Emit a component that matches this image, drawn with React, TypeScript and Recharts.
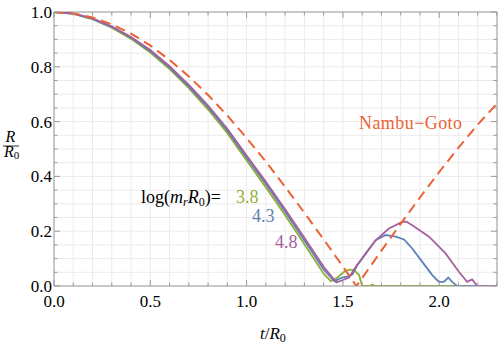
import { LineChart, Line, XAxis, YAxis, CartesianGrid, ReferenceLine } from 'recharts';

// Nambu-Goto loop (dashed)
const ngT = [0, 0.1, 0.2, 0.3, 0.4, 0.5, 0.6, 0.7, 0.8, 0.9, 1.0, 1.1, 1.2, 1.3, 1.4, 1.5, 1.57, 1.6, 1.7, 1.8, 1.9, 2.0, 2.1, 2.2, 2.3];
const ngR = [1.0, 0.995, 0.98, 0.955, 0.921, 0.878, 0.825, 0.765, 0.697, 0.622, 0.54, 0.454, 0.362, 0.267, 0.17, 0.071, 0.0, 0.029, 0.129, 0.227, 0.323, 0.416, 0.505, 0.589, 0.666];

// log(m_r R_0) = 3.8
const greenT = [0, 0.1, 0.2, 0.3, 0.4, 0.5, 0.6, 0.7, 0.8, 0.9, 1.0, 1.1, 1.2, 1.3, 1.4, 1.437, 1.472, 1.506, 1.532, 1.558, 1.584, 1.6, 1.64, 1.653, 1.665, 2.3];
const greenR = [1.0, 0.993, 0.974, 0.943, 0.902, 0.852, 0.792, 0.722, 0.644, 0.558, 0.458, 0.36, 0.258, 0.152, 0.045, 0.018, 0.031, 0.052, 0.06, 0.058, 0.04, 0.0, 0.0, 0.005, 0.0, 0.0];

// log(m_r R_0) = 4.3
const blueT = [0, 0.1, 0.2, 0.3, 0.4, 0.5, 0.6, 0.7, 0.8, 0.9, 1.0, 1.1, 1.2, 1.3, 1.4, 1.455, 1.497, 1.532, 1.55, 1.575, 1.619, 1.67, 1.722, 1.774, 1.817, 1.86, 1.912, 1.964, 1.998, 2.024, 2.047, 2.067, 2.093, 2.3];
const blueR = [1.0, 0.994, 0.975, 0.945, 0.906, 0.857, 0.797, 0.728, 0.652, 0.567, 0.468, 0.372, 0.271, 0.166, 0.06, 0.018, 0.031, 0.036, 0.043, 0.076, 0.119, 0.167, 0.186, 0.18, 0.17, 0.137, 0.088, 0.04, 0.015, 0.015, 0.031, 0.015, 0.0, 0.0];

// log(m_r R_0) = 4.8
const purpleT = [0, 0.1, 0.2, 0.3, 0.4, 0.5, 0.6, 0.7, 0.8, 0.9, 1.0, 1.1, 1.2, 1.3, 1.4, 1.466, 1.497, 1.532, 1.567, 1.619, 1.67, 1.739, 1.808, 1.83, 1.86, 1.947, 2.033, 2.102, 2.145, 2.171, 2.197, 2.3];
const purpleR = [1.0, 0.995, 0.977, 0.948, 0.909, 0.861, 0.802, 0.734, 0.658, 0.574, 0.476, 0.38, 0.28, 0.176, 0.07, 0.013, 0.021, 0.031, 0.07, 0.119, 0.167, 0.21, 0.234, 0.235, 0.222, 0.18, 0.119, 0.052, 0.015, 0.024, 0.0, 0.0];

const xTicks = [0, 0.1, 0.2, 0.3, 0.4, 0.5, 0.6, 0.7, 0.8, 0.9, 1.0, 1.1, 1.2, 1.3, 1.4, 1.5, 1.6, 1.7, 1.8, 1.9, 2.0, 2.1, 2.2, 2.3];
const yTicks = [0, 0.05, 0.1, 0.15, 0.2, 0.25, 0.3, 0.35, 0.4, 0.45, 0.5, 0.55, 0.6, 0.65, 0.7, 0.75, 0.8, 0.85, 0.9, 0.95, 1.0];

const W = 498;
const H = 345;
const PLOT_LEFT = 54;
const PLOT_RIGHT = 497;
const PLOT_TOP = 12;
const PLOT_BOTTOM = 286;

const FRAME = '#9a9a9a';
const GRID = '#ebebeb';
const ORANGE = '#EB6235';
const GREEN = '#8FB032';
const BLUE = '#5E81B5';
const PURPLE = '#A5609D';
const FONT = "'Liberation Serif', 'Times New Roman', Tinos, 'DejaVu Serif', serif";
const serif = { fontFamily: FONT };

const toPoints = (ts: number[], rs: number[]) => ts.map((t, i) => ({ t, r: rs[i] }));

const isMultiple = (v: number, step: number) => Math.abs(v / step - Math.round(v / step)) < 1e-6;

function XTick(props: any) {
  const { x, payload } = props;
  const v = payload.value;
  const major = isMultiple(v, 0.5);
  const len = major ? 6 : 3.5;
  return (
    <g>
      <line x1={x} x2={x} y1={PLOT_BOTTOM} y2={PLOT_BOTTOM - len} stroke={FRAME} />
      <line x1={x} x2={x} y1={PLOT_TOP} y2={PLOT_TOP + len} stroke={FRAME} />
      {major && (
        <text x={x} y={307} textAnchor="middle" style={serif} fontSize={17} fill="#000">
          {v.toFixed(1)}
        </text>
      )}
    </g>
  );
}

function YTick(props: any) {
  const { y, payload } = props;
  const v = payload.value;
  const major = isMultiple(v, 0.2);
  const len = major ? 6 : 3.5;
  return (
    <g>
      <line x1={PLOT_LEFT} x2={PLOT_LEFT + len} y1={y} y2={y} stroke={FRAME} />
      <line x1={PLOT_RIGHT} x2={PLOT_RIGHT - len} y1={y} y2={y} stroke={FRAME} />
      {major && (
        <text x={52} y={y + 6} textAnchor="end" style={serif} fontSize={17} fill="#000">
          {v.toFixed(1)}
        </text>
      )}
    </g>
  );
}

export default function App() {
  return (
    <div style={{ position: 'absolute', left: 0, top: 0, width: W, height: H, background: '#fff', fontFamily: FONT }}>
      <LineChart width={W} height={H} margin={{ top: PLOT_TOP, right: W - PLOT_RIGHT, bottom: 0, left: 0 }}>
        <CartesianGrid stroke={GRID} strokeWidth={1} />
        <XAxis
          type="number"
          dataKey="t"
          domain={[0, 2.3]}
          ticks={xTicks}
          interval={0}
          height={H - PLOT_BOTTOM}
          tickLine={false}
          axisLine={{ stroke: FRAME }}
          tick={<XTick />}
          allowDataOverflow
        />
        <YAxis
          type="number"
          dataKey="r"
          domain={[0, 1]}
          ticks={yTicks}
          interval={0}
          width={PLOT_LEFT}
          tickLine={false}
          axisLine={{ stroke: FRAME }}
          tick={<YTick />}
          allowDataOverflow
        />
        <ReferenceLine y={1} stroke={FRAME} />
        <ReferenceLine x={2.3} stroke={FRAME} />
        <Line data={toPoints(greenT, greenR)} dataKey="r" type="linear" stroke={GREEN} strokeWidth={1.8} dot={false} isAnimationActive={false} />
        <Line data={toPoints(blueT, blueR)} dataKey="r" type="linear" stroke={BLUE} strokeWidth={1.8} dot={false} isAnimationActive={false} />
        <Line data={toPoints(purpleT, purpleR)} dataKey="r" type="linear" stroke={PURPLE} strokeWidth={1.8} dot={false} isAnimationActive={false} />
        <Line data={toPoints(ngT, ngR)} dataKey="r" type="linear" stroke={ORANGE} strokeWidth={2} strokeDasharray="10 6" dot={false} isAnimationActive={false} />
      </LineChart>

      {/* labels and annotations */}
      <svg width={W} height={H} style={{ position: 'absolute', left: 0, top: 0, pointerEvents: 'none', fontFamily: FONT }}>
        <text x={10.5} y={141.5} textAnchor="middle" fontSize={16} fontStyle="italic">R</text>
        <line x1={3} x2={19} y1={146} y2={146} stroke="#000" strokeWidth={0.8} />
        <text x={4} y={157} fontSize={16}>
          <tspan fontStyle="italic">R</tspan>
          <tspan fontSize={11} dy={2}>0</tspan>
        </text>

        <text x={260} y={339} fontSize={17}>
          <tspan fontStyle="italic">t</tspan>
          <tspan>/</tspan>
          <tspan fontStyle="italic">R</tspan>
          <tspan fontSize={12} dy={3}>0</tspan>
        </text>

        <text x={359} y={129} fontSize={18} fill={ORANGE} textLength={103} lengthAdjust="spacing">Nambu−Goto</text>

        <text x={141} y={203} fontSize={18} fill="#000" textLength={80} lengthAdjust="spacing">
          <tspan>log(</tspan>
          <tspan fontStyle="italic">m</tspan>
          <tspan fontStyle="italic" fontSize={12} dy={3}>r</tspan>
          <tspan fontStyle="italic" dy={-3}>R</tspan>
          <tspan fontSize={12} dy={3}>0</tspan>
          <tspan dy={-3}>)=</tspan>
        </text>
        <text x={236} y={203} fontSize={18} fill={GREEN}>3.8</text>
        <text x={252} y={222} fontSize={18} fill={BLUE}>4.3</text>
        <text x={275} y={248} fontSize={18} fill={PURPLE}>4.8</text>
      </svg>
    </div>
  );
}
